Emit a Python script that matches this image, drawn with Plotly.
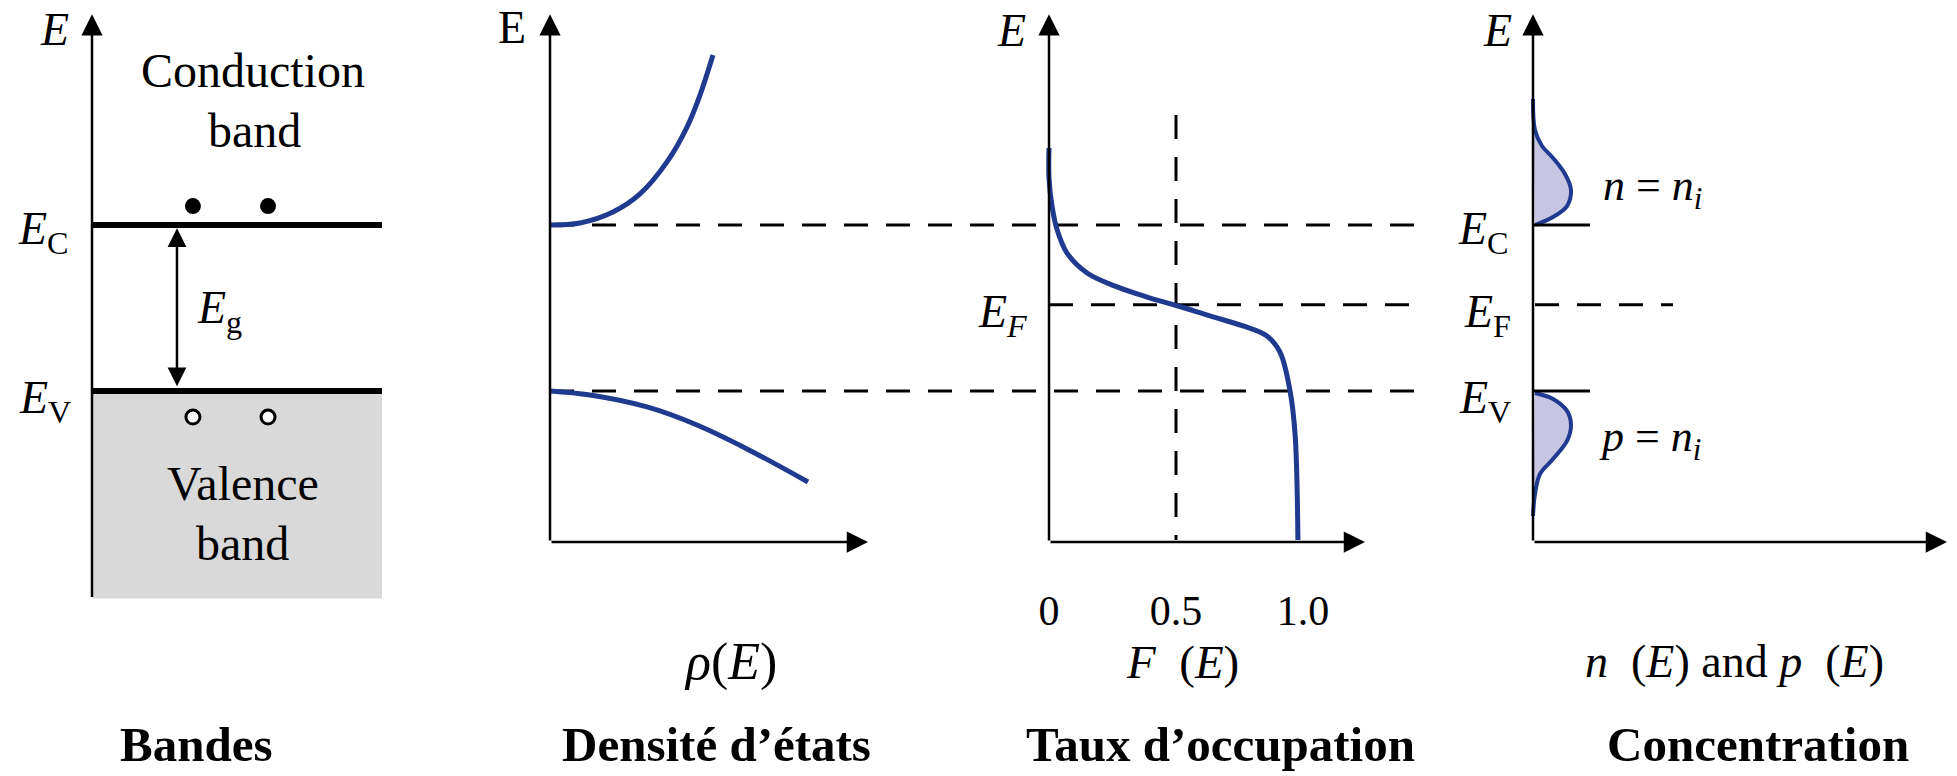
import plotly.graph_objects as go

W, H = 1957, 776

# Energy levels (E_V = 0, E_C = 1, arbitrary units)
E_C, E_V, E_F = 1.0, 0.0, 0.52
E_TOP = 2.27            # tip of the energy axes
E_AXIS = -0.91          # level of the horizontal axes
E_BAND_BOTTOM = -1.25   # bottom of the valence band box

# Density of states rho(E)
dos_c_rho = [0.0, 0.30, 0.63, 0.90, 1.17, 1.37, 1.50, 1.63]
dos_c_E = [1.0, 1.012, 1.078, 1.187, 1.380, 1.590, 1.783, 2.024]
dos_v_rho = [0.0, 0.40, 0.97, 1.47, 1.97, 2.58]
dos_v_E = [0.0, -0.024, -0.096, -0.205, -0.349, -0.548]

# Occupation probability F(E)
fermi_F = [0.0, 0.0, 0.012, 0.031, 0.071, 0.150, 0.268, 0.386, 0.508,
           0.634, 0.764, 0.858, 0.909, 0.949, 0.969, 0.980]
fermi_E = [1.464, 1.283, 1.114, 0.976, 0.831, 0.711, 0.627, 0.566, 0.512,
           0.452, 0.392, 0.331, 0.235, 0.0, -0.265, -0.898]

# Carrier concentrations n(E) and p(E)
n_conc = [0.0, 0.02, 0.09, 0.20, 0.32, 0.38, 0.34, 0.20, 0.02]
n_E = [1.759, 1.572, 1.476, 1.404, 1.307, 1.211, 1.114, 1.048, 1.0]
p_conc = [0.02, 0.20, 0.34, 0.38, 0.34, 0.20, 0.07, 0.02, 0.0]
p_E = [-0.012, -0.048, -0.120, -0.205, -0.301, -0.410, -0.500, -0.620, -0.753]

# Electrons / holes drawn in the band diagram
carrier_x = [0.348, 0.607]
electron_E = 1.114
hole_E = -0.157

tick_vals = [0, 0.5, 1.0]
tick_text = ["0", "0.5", "1.0"]

# Horizontal placement of each panel: (origin pixel, pixels per unit)
PANELS = {"x": (92, 290), "x2": (550, 100), "x3": (1049, 254), "x4": (1533, 100)}
Y_ORIGIN_PX, Y_SCALE = 391, 166

BLUE = "#1f3a8f"
FILL = "#c6c6e2"
SERIF = "Liberation Serif"
DASH = "24px,18px"

fig = go.Figure()


def line(xa, xs, ys, color="black", width=3, dash=None, shape="linear", fill=None, fillcolor=None):
    fig.add_trace(go.Scatter(
        x=xs, y=ys, xaxis=xa, yaxis="y", mode="lines",
        line=dict(color=color, width=width, dash=dash, shape=shape),
        fill=fill, fillcolor=fillcolor, hoverinfo="skip", showlegend=False))


def arrow(xa, x0, y0, x1, y1, both=False, size=1.7, width=2.5):
    fig.add_annotation(
        xref=xa, yref="y", axref=xa, ayref="y", x=x1, y=y1, ax=x0, ay=y0,
        text="", showarrow=True, arrowhead=2, startarrowhead=2, arrowsize=size,
        startarrowsize=size, arrowwidth=width, arrowcolor="black", standoff=0,
        startstandoff=0, arrowside="end+start" if both else "end")


def label(xa, x, y, text, size=44, xanchor="center", yanchor="middle", family=SERIF):
    fig.add_annotation(
        xref=xa, yref="y", x=x, y=y, text=text, showarrow=False,
        xanchor=xanchor, yanchor=yanchor, borderpad=0,
        font=dict(family=family, size=size, color="black"))


CAPTION_E = -2.13   # level of the bold captions under each panel
AXIS_NAME_E = -1.63  # level of the quantity names under the axes

# ---- Panel 1: band diagram ----
fig.add_shape(type="rect", xref="x", yref="y", x0=0, x1=1, y0=E_BAND_BOTTOM, y1=E_V,
              fillcolor="#d9d9d9", line_width=0, layer="below")
line("x", [0, 1], [E_C, E_C], width=6)
line("x", [0, 1], [E_V, E_V], width=6)
fig.add_trace(go.Scatter(x=carrier_x, y=[electron_E] * 2, xaxis="x", yaxis="y", mode="markers",
                         marker=dict(size=16, color="black"), hoverinfo="skip", showlegend=False))
fig.add_trace(go.Scatter(x=carrier_x, y=[hole_E] * 2, xaxis="x", yaxis="y", mode="markers",
                         marker=dict(size=14, color="white", line=dict(color="black", width=3)),
                         hoverinfo="skip", showlegend=False))
arrow("x", 0, E_BAND_BOTTOM, 0, E_TOP)
arrow("x", 0.293, E_V + 0.02, 0.293, E_C - 0.02, both=True, size=1.5, width=2.5)
label("x", -0.128, 2.175, "<i>E</i>", size=46)
label("x", -0.075, 0.96, "<i>E</i><sub>C</sub>", xanchor="right", size=46)
label("x", -0.07, -0.06, "<i>E</i><sub>V</sub>", xanchor="right", size=46)
label("x", 0.36, 0.48, "<i>E</i><sub>g</sub>", xanchor="left", size=46)
label("x", 0.555, 1.93, "Conduction", size=48)
label("x", 0.56, 1.57, "band", size=48)
label("x", 0.52, -0.56, "Valence", size=48)
label("x", 0.52, -0.92, "band", size=48)
label("x", 0.362, CAPTION_E, "<b>Bandes</b>", size=49)

# ---- Panel 2: density of states ----
line("x2", [0, 8.72], [E_C, E_C], dash=DASH)
line("x2", [0, 8.72], [E_V, E_V], dash=DASH)
line("x2", dos_c_rho, dos_c_E, color=BLUE, width=5, shape="spline")
line("x2", dos_v_rho, dos_v_E, color=BLUE, width=5, shape="spline")
arrow("x2", 0, E_AXIS, 0, E_TOP)
arrow("x2", 0, E_AXIS, 3.18, E_AXIS)
label("x2", -0.38, 2.19, "E", size=46)
label("x2", 1.80, AXIS_NAME_E, "<i>ρ</i>(<i>E</i>)", size=52)
label("x2", 1.66, CAPTION_E, "<b>Densité d’états</b>", size=49)

# ---- Panel 3: occupation probability ----
line("x3", [0, 1.47], [E_F, E_F], dash=DASH)
line("x3", [0.5, 0.5], [1.663, -0.898], dash=DASH)
line("x3", fermi_F, fermi_E, color=BLUE, width=5, shape="spline")
arrow("x3", 0, E_AXIS, 0, E_TOP)
arrow("x3", 0, E_AXIS, 1.244, E_AXIS)
label("x3", -0.146, 2.169, "<i>E</i>", size=46)
label("x3", -0.083, 0.46, "<i>E</i><sub><i>F</i></sub>", xanchor="right", size=46)
label("x3", 0.524, AXIS_NAME_E, "<i>F</i>  (<i>E</i>)", size=47)
label("x3", 0.677, CAPTION_E, "<b>Taux d’occupation</b>", size=49)

# ---- Panel 4: carrier concentration ----
line("x4", n_conc, n_E, color=BLUE, width=4, shape="spline", fill="toself", fillcolor=FILL)
line("x4", p_conc, p_E, color=BLUE, width=4, shape="spline", fill="toself", fillcolor=FILL)
line("x4", [0, 0.57], [E_C, E_C], width=3)
line("x4", [0, 0.57], [E_V, E_V], width=3)
line("x4", [0.02, 1.40], [E_F, E_F], dash=DASH)
arrow("x4", 0, E_AXIS, 0, E_TOP)
arrow("x4", 0, E_AXIS, 4.14, E_AXIS)
label("x4", -0.36, 2.169, "<i>E</i>", size=46)
label("x4", -0.23, 0.96, "<i>E</i><sub>C</sub>", xanchor="right", size=46)
label("x4", -0.21, 0.46, "<i>E</i><sub>F</sub>", xanchor="right", size=46)
label("x4", -0.21, -0.06, "<i>E</i><sub>V</sub>", xanchor="right", size=46)
label("x4", 0.69, 1.22, "<i>n</i> = <i>n</i><sub><i>i</i></sub>", xanchor="left")
label("x4", 0.65, -0.29, "<i>p</i> = <i>n</i><sub><i>i</i></sub>", xanchor="left")
label("x4", 2.01, AXIS_NAME_E, "<i>n</i>  (<i>E</i>) and <i>p</i>  (<i>E</i>)", size=46)
label("x4", 2.25, CAPTION_E, "<b>Concentration</b>", size=49)


def x_range(key):
    origin, scale = PANELS[key]
    return [(0 - origin) / scale, (W - origin) / scale]


hidden = dict(visible=False, domain=[0, 1], anchor="y", automargin=False)
fig.update_layout(
    width=W, height=H,
    margin=dict(l=0, r=0, t=0, b=0),
    paper_bgcolor="white", plot_bgcolor="white",
    showlegend=False,
    xaxis=dict(hidden, range=x_range("x")),
    xaxis2=dict(hidden, range=x_range("x2"), overlaying="x"),
    xaxis3=dict(domain=[0, 1], range=x_range("x3"), overlaying="x", anchor="free",
                position=1 - (Y_ORIGIN_PX - E_AXIS * Y_SCALE) / H,
                showline=False, showgrid=False, zeroline=False, ticks="",
                tickvals=tick_vals, ticktext=tick_text, ticklabelstandoff=40,
                tickfont=dict(family=SERIF, size=42, color="black"), automargin=False),
    xaxis4=dict(hidden, range=x_range("x4"), overlaying="x"),
    yaxis=dict(visible=False, domain=[0, 1], automargin=False,
               range=[(Y_ORIGIN_PX - H) / Y_SCALE, Y_ORIGIN_PX / Y_SCALE]),
)

fig.write_html("out.html")
